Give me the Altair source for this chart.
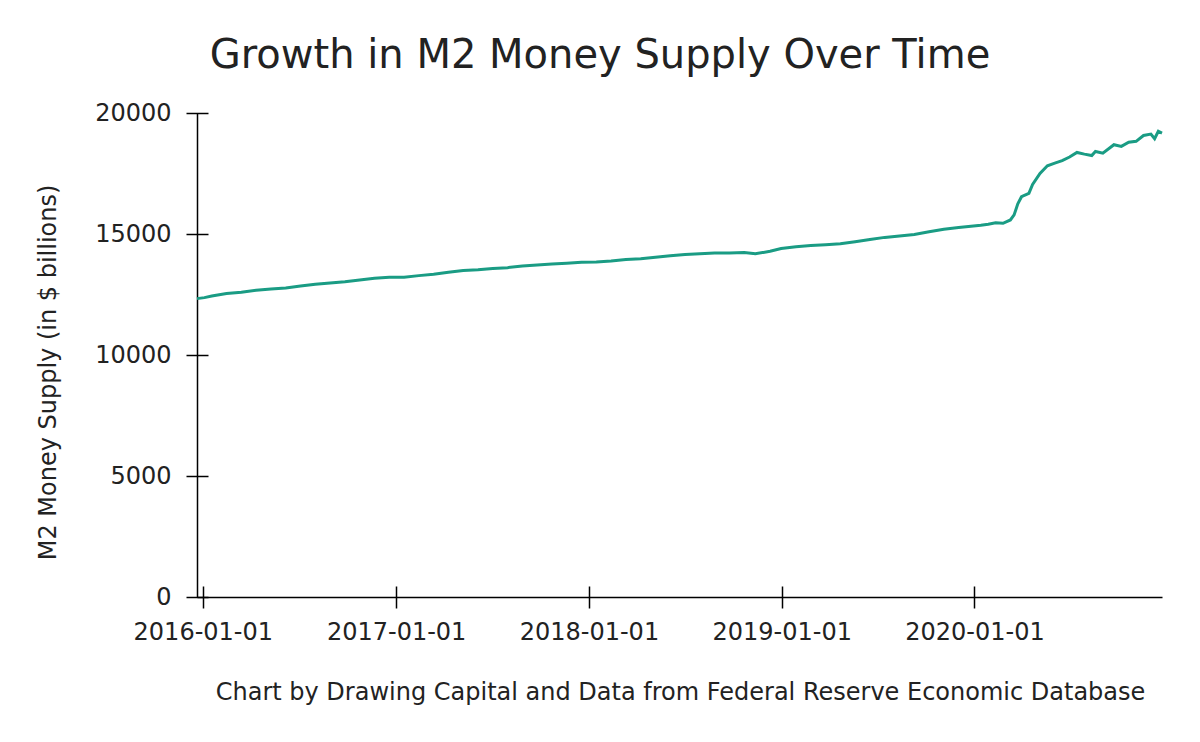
import altair as alt
import pandas as pd

dates = [
    "2015-12-21", "2016-01-04", "2016-01-18", "2016-02-15", "2016-03-14", "2016-04-11",
    "2016-05-09", "2016-06-06", "2016-07-04", "2016-08-01", "2016-08-29", "2016-09-26",
    "2016-10-24", "2016-11-21", "2016-12-19", "2017-01-16", "2017-02-13", "2017-03-13",
    "2017-04-10", "2017-05-08", "2017-06-05", "2017-07-03", "2017-07-31", "2017-08-28",
    "2017-09-25", "2017-10-23", "2017-11-20", "2017-12-18", "2018-01-15", "2018-02-12",
    "2018-03-12", "2018-04-09", "2018-05-07", "2018-06-04", "2018-07-02", "2018-07-30",
    "2018-08-27", "2018-09-24", "2018-10-22", "2018-11-12", "2018-12-10", "2018-12-31",
    "2019-01-28", "2019-02-25", "2019-03-25", "2019-04-22", "2019-05-20", "2019-06-17",
    "2019-07-15", "2019-08-12", "2019-09-09", "2019-10-07", "2019-11-04", "2019-12-02",
    "2019-12-30", "2020-01-13", "2020-01-27", "2020-02-10", "2020-02-24", "2020-03-09",
    "2020-03-16", "2020-03-23", "2020-03-30", "2020-04-13", "2020-04-20", "2020-05-04",
    "2020-05-18", "2020-06-01", "2020-06-15", "2020-06-29", "2020-07-13", "2020-07-27",
    "2020-08-10", "2020-08-17", "2020-08-31", "2020-09-21", "2020-10-05", "2020-10-19",
    "2020-11-02", "2020-11-16", "2020-11-30", "2020-12-07", "2020-12-14", "2020-12-21",
]
m2_values = [
    12330, 12370, 12440, 12540, 12590, 12680,
    12730, 12770, 12850, 12920, 12980, 13030,
    13100, 13170, 13210, 13215, 13280, 13340,
    13420, 13490, 13520, 13570, 13610, 13680,
    13720, 13760, 13790, 13830, 13840, 13880,
    13950, 13980, 14040, 14100, 14150, 14180,
    14210, 14220, 14240, 14180, 14285, 14400,
    14470, 14520, 14560, 14600, 14680, 14770,
    14860, 14920, 14980, 15090, 15200, 15270,
    15330, 15360, 15400, 15460, 15440, 15580,
    15790, 16250, 16540, 16680, 17050, 17500,
    17820, 17930, 18030, 18180, 18370, 18300,
    18240, 18410, 18340, 18690, 18620, 18790,
    18830, 19070, 19130, 18940, 19245, 19170,
]
y_ticks = [0, 5000, 10000, 15000, 20000]
x_tick_years = [2016, 2017, 2018, 2019, 2020]

title_text = "Growth in M2 Money Supply Over Time"
y_title = "M2 Money Supply (in $ billions)"
caption = "Chart by Drawing Capital and Data from Federal Reserve Economic Database"

df = pd.DataFrame({"date": dates, "m2": m2_values})

FONT = "DejaVu Sans"
TXT = "#222222"
LINE = "#1a9c84"
FS = 24

x_scale = alt.Scale(type="utc", nice=False)
y_scale = alt.Scale(domain=[0, 20000], nice=False, zero=True)
x_vals = [alt.DateTime(year=yr, month=1, date=1, utc=True) for yr in x_tick_years]

main = alt.Chart(df).mark_line(color=LINE, strokeWidth=3).encode(
    x=alt.X("date:T", scale=x_scale,
            axis=alt.Axis(orient="bottom", values=x_vals, format="%Y-%m-%d",
                          offset=-11, tickSize=22, domain=False, grid=False,
                          tickColor="black", tickWidth=1.5,
                          labelFont=FONT, labelFontSize=FS, labelColor=TXT,
                          labelPadding=12, labelAngle=0,
                          title=caption, titleFont=FONT, titleFontSize=FS,
                          titleFontWeight="normal", titleColor=TXT,
                          titleX=483, titleY=106, titleBaseline="middle",
                          titleAlign="center")),
    y=alt.Y("m2:Q", scale=y_scale,
            axis=alt.Axis(orient="left", values=y_ticks, format="d",
                          offset=-11, tickSize=22, domain=False, grid=False,
                          tickColor="black", tickWidth=1.5,
                          labelFont=FONT, labelFontSize=FS, labelColor=TXT,
                          labelPadding=15,
                          title=y_title, titleFont=FONT, titleFontSize=FS,
                          titleFontWeight="normal", titleColor=TXT,
                          titleX=-160, titleY=259, titleAngle=270,
                          titleBaseline="middle", titleAlign="center")),
)

frame = alt.Chart(df).mark_line(opacity=0).encode(
    x=alt.X("date:T", scale=x_scale,
            axis=alt.Axis(orient="bottom", domain=True, domainColor="black",
                          domainWidth=1.5, ticks=False, labels=False,
                          grid=False, title=None)),
    y=alt.Y("m2:Q", scale=y_scale,
            axis=alt.Axis(orient="left", domain=True, domainColor="black",
                          domainWidth=1.5, ticks=False, labels=False,
                          grid=False, title=None)),
)

chart = alt.layer(frame, main).resolve_axis(
    x="independent", y="independent"
).properties(
    width=965,
    height=484,
    background="white",
    autosize=alt.AutoSizeParams(type="none"),
    padding={"left": 189, "top": 105, "right": 30, "bottom": 137},
    title=alt.TitleParams(text=title_text, font=FONT, fontSize=40,
                          fontWeight="normal", color=TXT, anchor="middle",
                          dx=-79.5, dy=38, baseline="alphabetic", offset=31),
).configure_view(stroke=None)

chart.save("out.html", embed_options={"renderer": "svg", "actions": False})
